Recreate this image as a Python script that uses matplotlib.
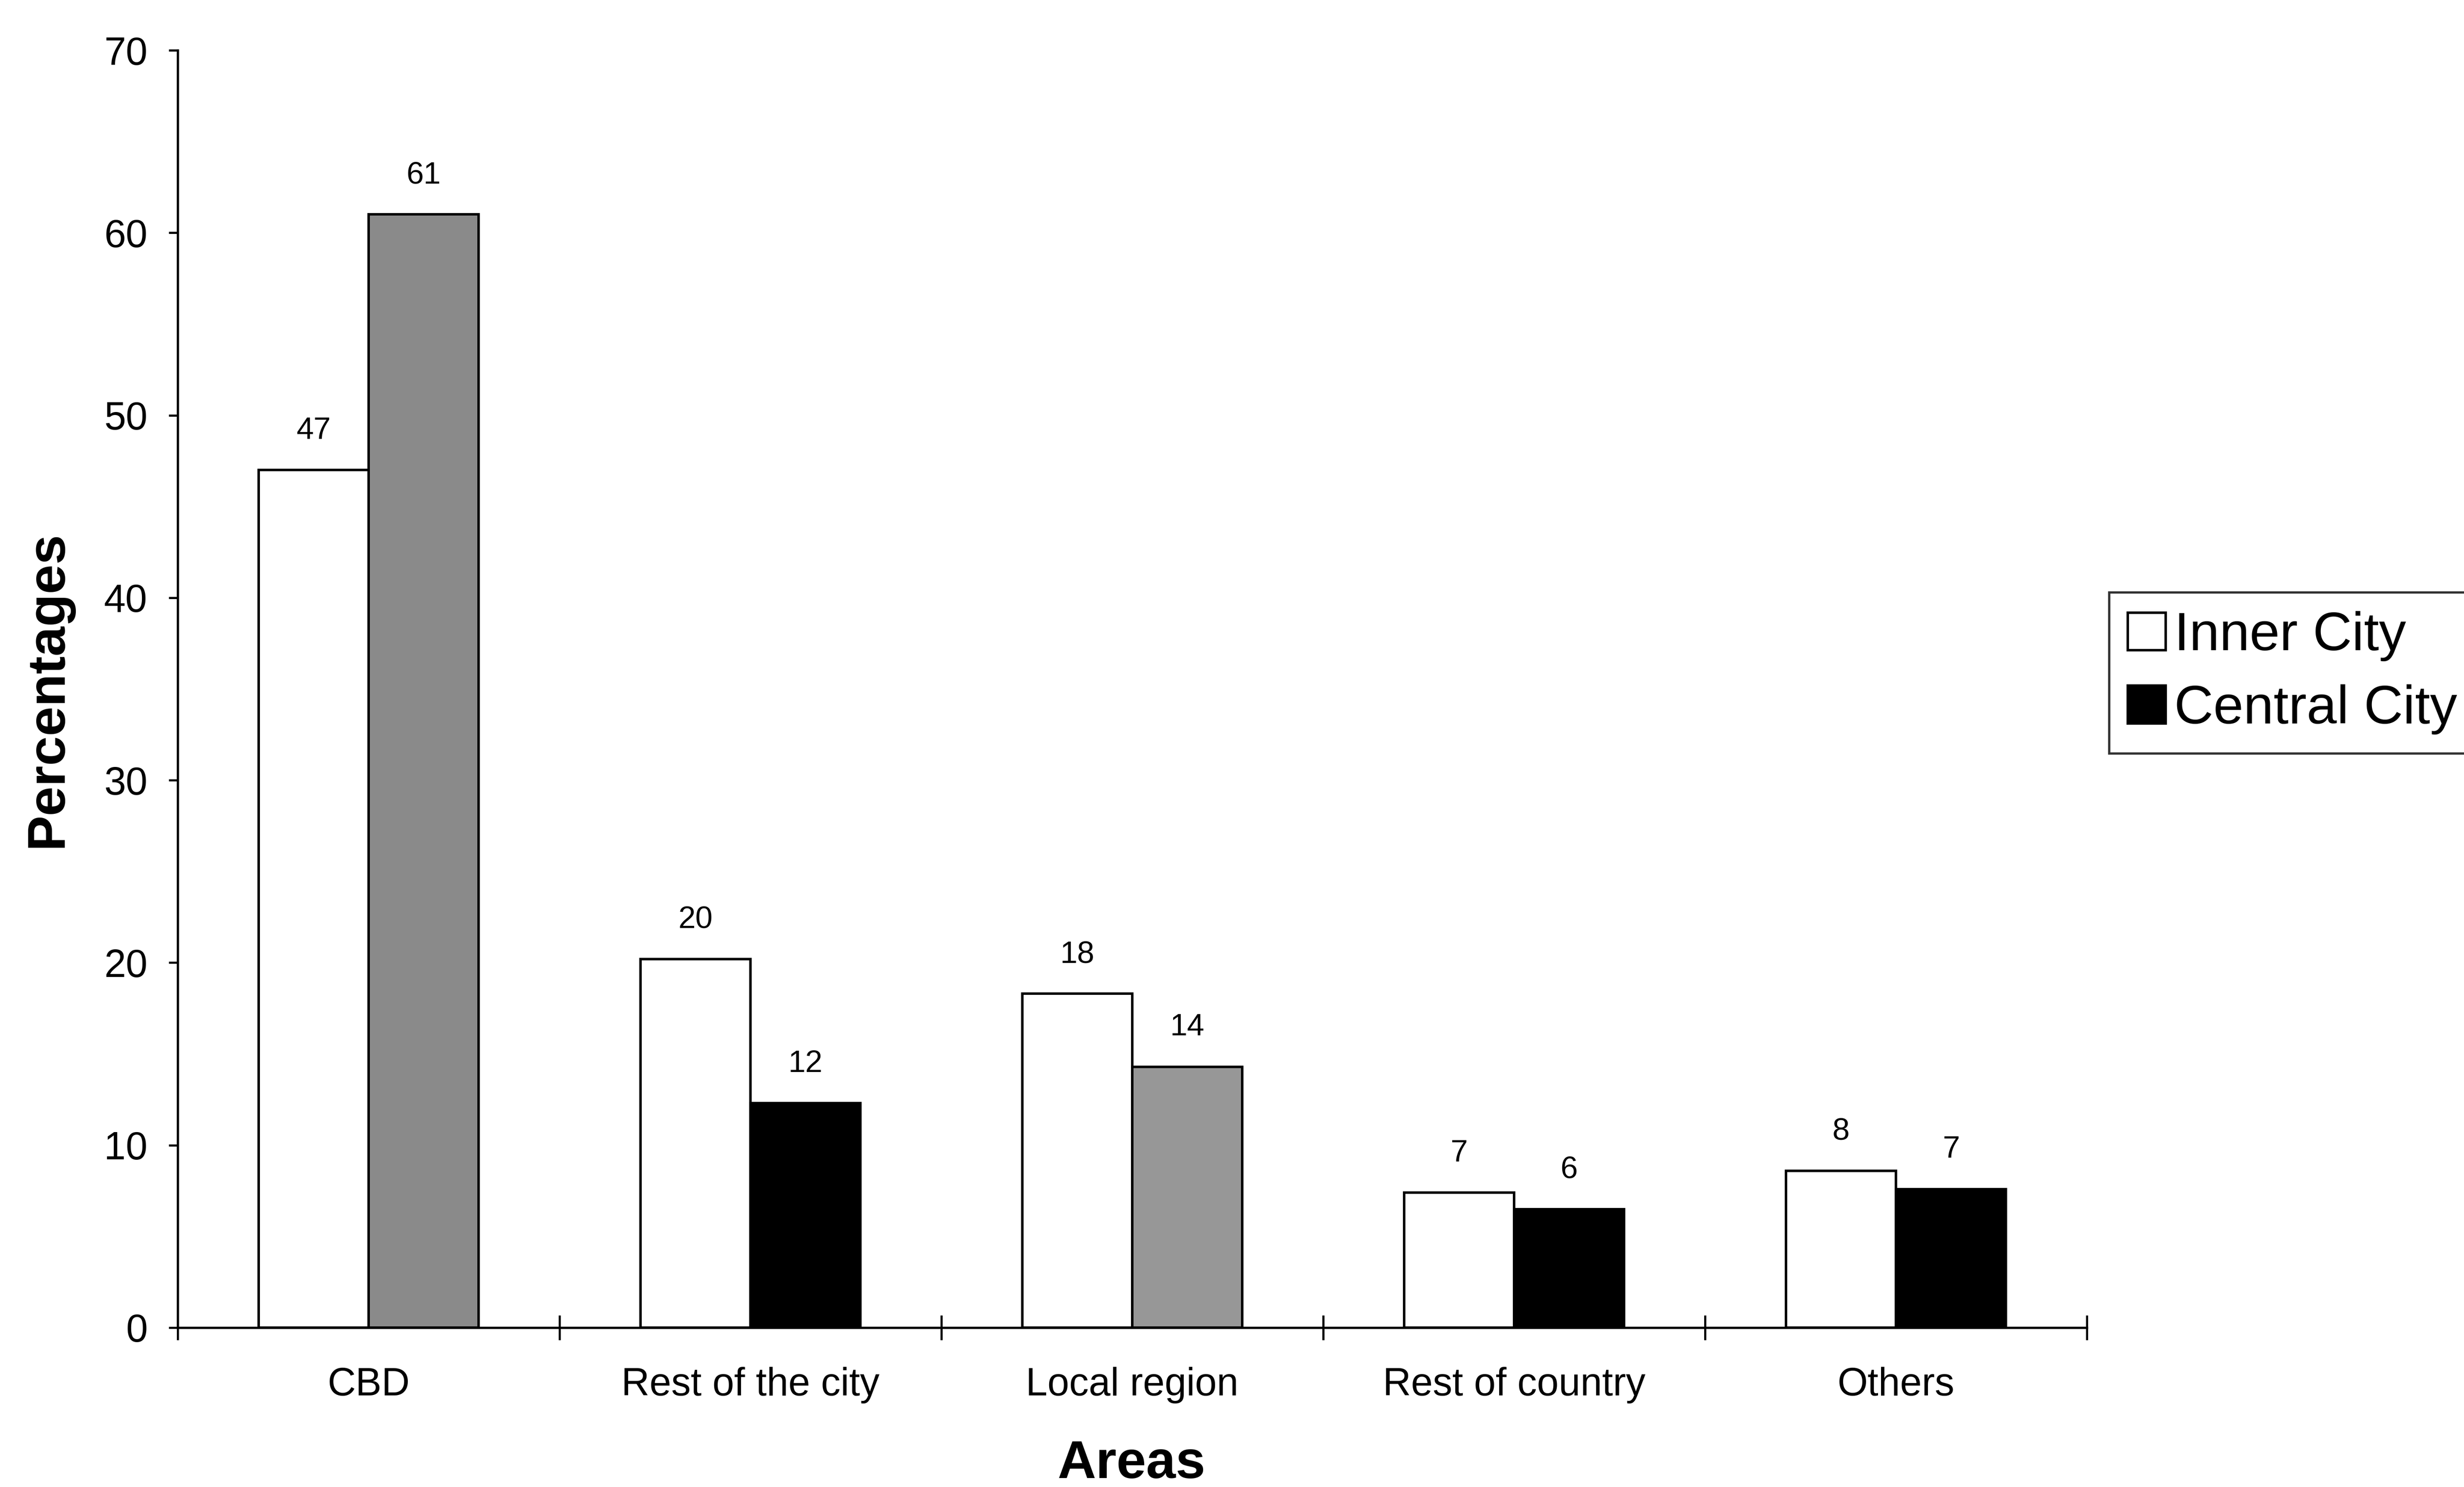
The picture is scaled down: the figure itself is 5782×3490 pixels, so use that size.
import matplotlib
matplotlib.use("Agg")
import matplotlib.pyplot as plt
from matplotlib.patches import Patch
import numpy as np

plt.rcParams['font.family'] = ['Liberation Sans', 'DejaVu Sans']

categories = ["CBD", "Rest of the city", "Local region", "Rest of country", "Others"]
inner_city = [47.0, 20.2, 18.3, 7.4, 8.6]
central_city = [61.0, 12.3, 14.3, 6.5, 7.6]
inner_labels = ["47", "20", "18", "7", "8"]
central_labels = ["61", "12", "14", "6", "7"]
y_ticks = [0, 10, 20, 30, 40, 50, 60, 70]

# appearance of the scanned bars (stippled grey on some, solid black on others)
central_colors = ["#8a8a8a", "#000000", "#979797", "#000000", "#000000"]

W, H, DPI = 5782, 3490, 300
fig = plt.figure(figsize=(W / DPI, H / DPI), dpi=DPI)
ax = fig.add_axes([417 / W, 1 - 3116 / H, (4897 - 417) / W, (3116 - 118) / H])

x = np.arange(len(categories))
w = 0.288
b1 = ax.bar(x - w / 2, inner_city, w, color="white", edgecolor="black", linewidth=1.4)
b2 = ax.bar(x + w / 2, central_city, w, color=central_colors, edgecolor="black", linewidth=1.4)

for rects, labs in ((b1, inner_labels), (b2, central_labels)):
    for r, lab in zip(rects, labs):
        ax.annotate(lab, (r.get_x() + r.get_width() / 2, r.get_height()),
                    xytext=(0, 22), textcoords="offset points",
                    ha="center", va="center", fontsize=17.5)

ax.set_xlim(-0.5, len(categories) - 0.5)
ax.set_ylim(0, 70)
ax.set_yticks(y_ticks)
ax.tick_params(axis="y", direction="out", length=5, width=1.2, labelsize=22, pad=12)

ax.set_xticks(np.arange(len(categories) + 1) - 0.5)
ax.set_xticklabels([])
ax.tick_params(axis="x", which="major", direction="inout", length=14, width=1.2)
ax.set_xticks(x, minor=True)
ax.set_xticklabels(categories, minor=True)
ax.tick_params(axis="x", which="minor", length=0, labelsize=22, pad=22)

for s in ("top", "right"):
    ax.spines[s].set_visible(False)
for s in ("left", "bottom"):
    ax.spines[s].set_linewidth(1.3)

ax.set_ylabel("Percentages", fontsize=30, fontweight="bold", va="center", ha="center")
ax.yaxis.set_label_coords(-0.068, 0.5)
ax.set_xlabel("Areas", fontsize=30, fontweight="bold", va="center", ha="center")
ax.xaxis.set_label_coords(0.4996, -0.107)

handles = [Patch(facecolor="white", edgecolor="black", linewidth=1.4),
           Patch(facecolor="black", edgecolor="black", linewidth=1.4)]
leg = fig.legend(handles, ["Inner City", "Central City"], loc="upper left",
                 bbox_to_anchor=(4949 / W, 1 - 1390 / H), fontsize=30.5,
                 frameon=True, fancybox=False, edgecolor="black",
                 handlelength=0.7, handleheight=0.7, handletextpad=0.15,
                 borderpad=0.35, labelspacing=0.42, borderaxespad=0)
leg.get_frame().set_linewidth(1.3)

fig.savefig("out.png", dpi=DPI, facecolor="white")
